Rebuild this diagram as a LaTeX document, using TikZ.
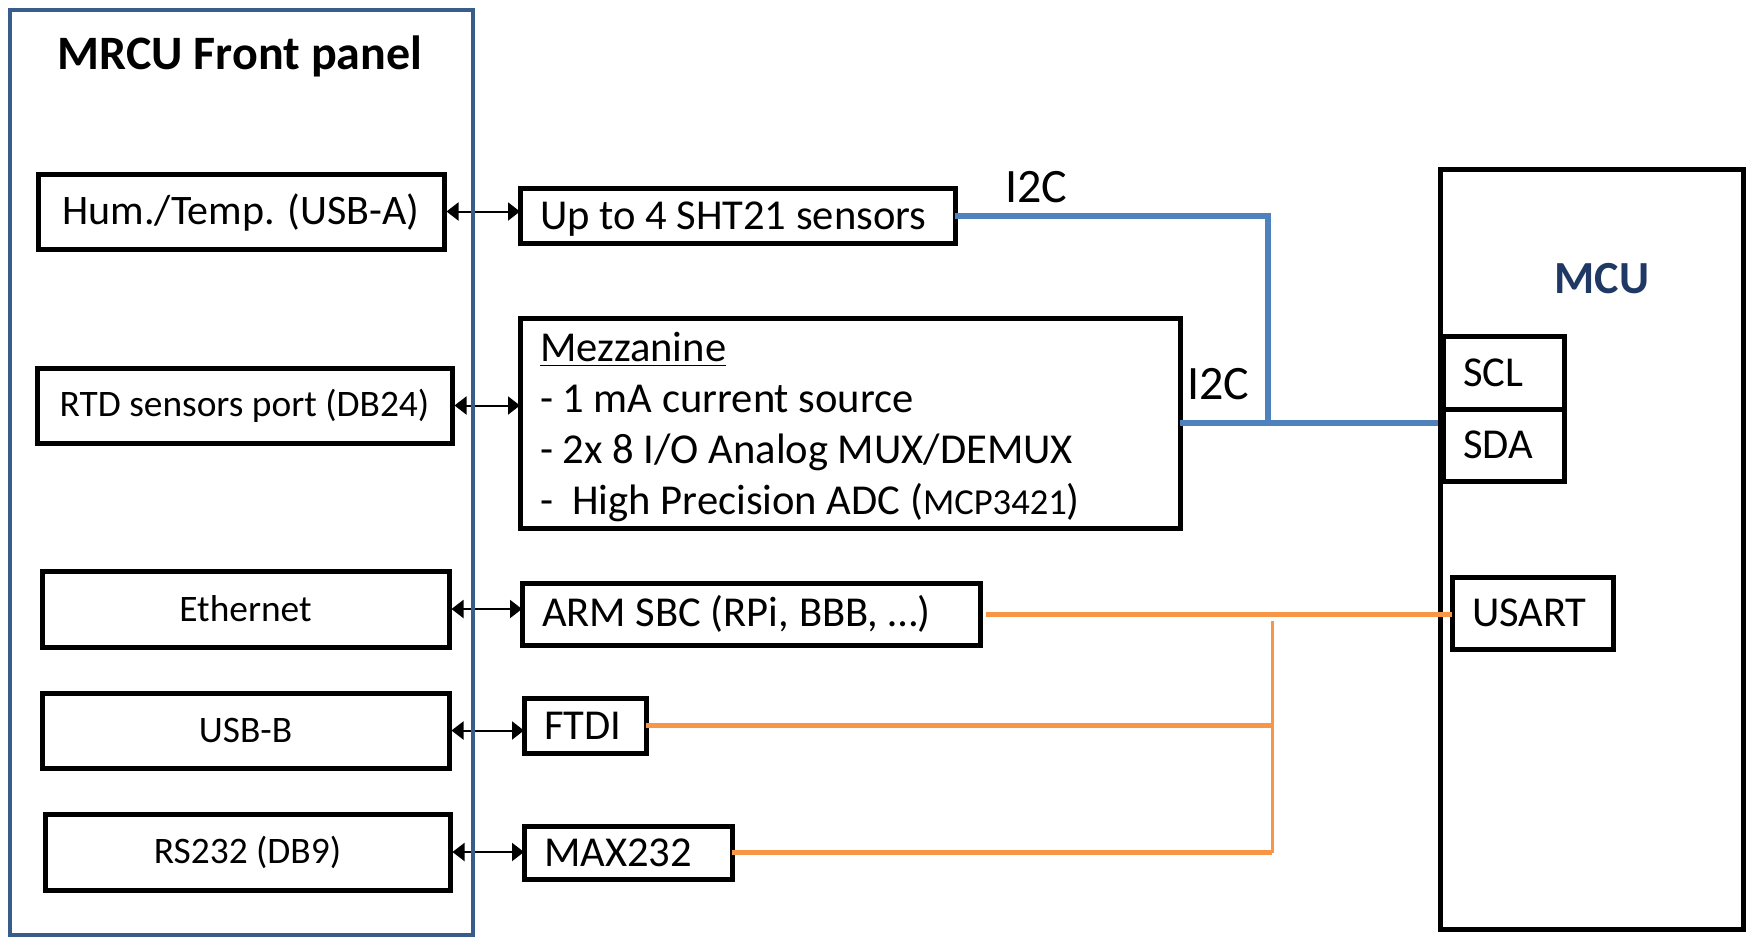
\documentclass[tikz,border=0pt]{standalone}
\usepackage{fontspec}
\setmainfont{Carlito}
\usetikzlibrary{arrows.meta, positioning}

\definecolor{panelblue}{HTML}{385D8A}
\definecolor{busblue}{HTML}{4F81BD}
\definecolor{uartorange}{HTML}{F79646}
\definecolor{mcublue}{HTML}{1F3864}

\begin{document}
\begin{tikzpicture}[
    x=0.5pt, y=-0.5pt,
    panel/.style={rectangle, draw=panelblue, line width=2pt, minimum width=231.5pt, minimum height=462.5pt},
    jack/.style={rectangle, draw, line width=2.5pt, align=center, inner sep=0pt, font=\fontsize{18.7}{22}\selectfont},
    chip/.style={rectangle, draw, line width=2.5pt, align=flush left, inner xsep=10pt, inner ysep=0pt, outer sep=0pt, font=\fontsize{21.3}{25.5}\selectfont},
    headline/.style={font=\fontsize{24}{28}\selectfont\bfseries},
    buslabel/.style={font=\fontsize{24}{28}\selectfont},
    duplex/.style={{Triangle[length=6pt,width=9pt]}-{Triangle[length=6pt,width=9pt]}, line width=1pt},
    i2c/.style={draw=busblue, line width=3pt},
    uart/.style={draw=uartorange, line width=2.5pt}
]
    \useasboundingbox (0,0) rectangle (1746,937);

    \node[headline] (fronttitle) at (240,56) {MRCU Front panel};

    \node[jack, font=\fontsize{21}{25}\selectfont, text depth=2pt, minimum width=203pt, minimum height=37.5pt] (humtemp) at (241,211.5) {Hum./Temp. (USB-A)};
    \node[jack, minimum width=207.5pt, minimum height=37.5pt] (rtd) at (244.5,405.5) {RTD sensors port (DB24)};
    \node[jack, minimum width=203.5pt, minimum height=38pt] (ethernet) at (245.5,609) {Ethernet};
    \node[jack, minimum width=203.5pt, minimum height=37.5pt] (usbb) at (245.5,730.5) {USB-B};
    \node[jack, minimum width=202.5pt, minimum height=38pt] (rs232) at (247.5,852) {RS232 (DB9)};

    \node[chip, text width=197.5pt, text depth=0pt, minimum height=27.5pt] (sht) at (737.5,215.5) {Up to 4 SHT21 sensors};
    \node[chip, text width=310pt, minimum height=105pt] (mezz) at (850,423) {\rule{0pt}{19pt}\underline{Mezzanine}\\- 1 mA current source\\- 2x 8 I/O Analog MUX/DEMUX\\- \ High Precision ADC ({\fontsize{18.3}{20}\selectfont MCP3421})};
    \node[chip, text width=209pt, minimum height=31pt] (arm) at (751,614) {ARM SBC (RPi, BBB, …)};
    \node[chip, text width=41pt, minimum height=27.5pt] (ftdi) at (585,725.5) {FTDI};
    \node[chip, text width=84pt, minimum height=26.5pt] (max232) at (628,852.5) {MAX232};

    \node[rectangle, draw, line width=2.5pt, minimum width=151.5pt, minimum height=380pt] (mcu) at (1591.5,549) {};
    \node[font=\fontsize{23}{27}\selectfont\bfseries, text=mcublue] (mculabel) at (1602,279) {MCU};
    \node[chip, text width=40.5pt, minimum height=36.5pt] (scl) at (1503.5,372.5) {SCL};
    \node[chip, text width=40.5pt, minimum height=36pt, below=0pt of scl] (sda) {SDA};
    \node[chip, text width=60.5pt, minimum height=36pt] (usart) at (1532.5,613) {USART};

    \draw[duplex] (humtemp.east) -- (humtemp.east -| sht.west);
    \draw[duplex] (rtd.east) -- (rtd.east -| mezz.west);
    \draw[duplex] (ethernet.east) -- (ethernet.east -| arm.west);
    \draw[duplex] (usbb.east) -- (usbb.east -| ftdi.west);
    \draw[duplex] (rs232.east) -- (rs232.east -| max232.west);

    \node[panel] (front) at (241.5,472.5) {};

    \coordinate (i2cjoin) at (1268,423);
    \draw[i2c] (sht.east) -| (i2cjoin);
    \draw[i2c] (mezz.east) -- (mezz.east -| mcu.west);
    \node[buslabel] (i2ctop) at (1036,187) {I2C};
    \node[buslabel] (i2cmid) at (1218,384) {I2C};

    \coordinate (uarttop) at (1272,621);
    \coordinate (uartbot) at (1272,853);
    \draw[uart, shorten <=3pt] (arm.east) -- (arm.east -| usart.west);
    \draw[uart, line width=1.5pt] (uarttop) -- (uartbot);
    \draw[uart] (ftdi.east) -- (ftdi.east -| uarttop);
    \draw[uart] (max232.east) -- (max232.east -| uartbot);
\end{tikzpicture}
\end{document}
